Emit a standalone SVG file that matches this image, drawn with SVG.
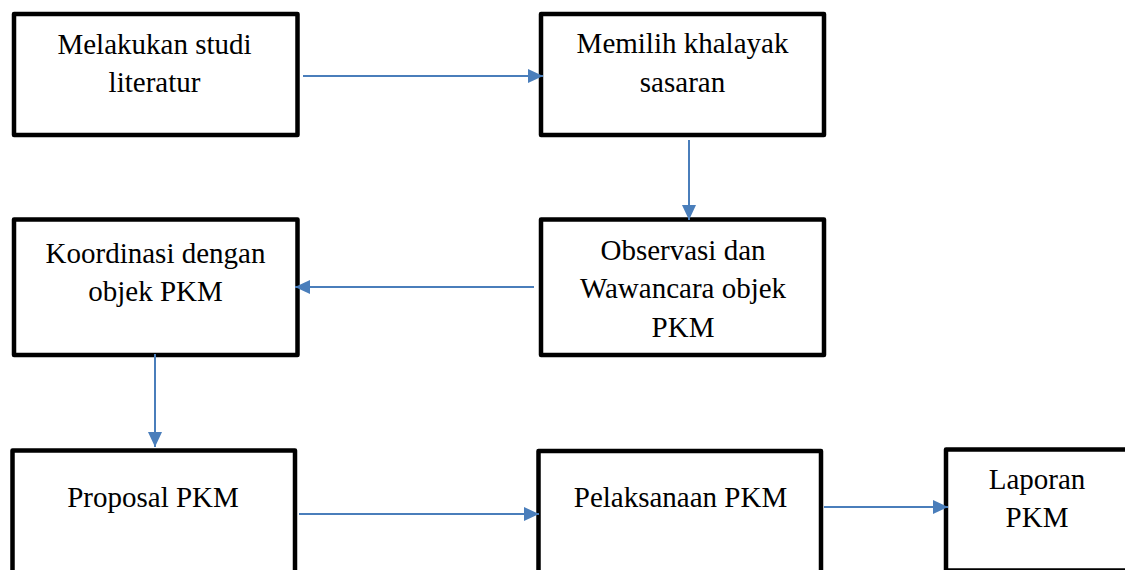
<svg xmlns="http://www.w3.org/2000/svg" width="1125" height="570" viewBox="0 0 1125 570">
<style>
.box{fill:#fff;stroke:#000;stroke-width:4.5;stroke-linejoin:round}
.lbl{font-family:"Liberation Serif","Times New Roman","DejaVu Serif",serif;font-size:29px;fill:#000;text-anchor:middle}
.conn{stroke:#4a7ebb;stroke-width:2;fill:none}
</style>
<defs>
<marker id="arr" markerUnits="userSpaceOnUse" markerWidth="16" markerHeight="16" refX="15" refY="7" orient="auto">
<path d="M0,0 L15,7 L0,14 Z" fill="#4a7ebb"/>
</marker>
</defs>
<rect width="1125" height="570" fill="#fff"/>
<g id="n1"><rect class="box" x="14" y="14" width="283.5" height="121"/>
<text class="lbl" x="154.5" y="54">Melakukan studi</text><text class="lbl" x="154.5" y="92">literatur</text></g>
<g id="n2"><rect class="box" x="541" y="14" width="283" height="121"/>
<text class="lbl" x="682.5" y="53">Memilih khalayak</text><text class="lbl" x="682.5" y="92">sasaran</text></g>
<g id="n3"><rect class="box" x="541" y="219.5" width="283" height="135.5"/>
<text class="lbl" x="683" y="260">Observasi dan</text><text class="lbl" x="683" y="298">Wawancara objek</text><text class="lbl" x="683" y="337">PKM</text></g>
<g id="n4"><rect class="box" x="14" y="219.5" width="283.5" height="135.5"/>
<text class="lbl" x="155.5" y="263">Koordinasi dengan</text><text class="lbl" x="155.5" y="301">objek PKM</text></g>
<g id="n5"><rect class="box" x="12.5" y="450.5" width="282.5" height="140"/>
<text class="lbl" x="153" y="507">Proposal PKM</text></g>
<g id="n6"><rect class="box" x="538.5" y="451" width="282.5" height="140"/>
<text class="lbl" x="680.5" y="507">Pelaksanaan PKM</text></g>
<g id="n7"><rect class="box" x="946" y="449.5" width="200" height="121"/>
<text class="lbl" x="1037" y="489">Laporan</text><text class="lbl" x="1037" y="527">PKM</text></g>
<g id="connectors">
<line class="conn" x1="303" y1="76" x2="543" y2="76" marker-end="url(#arr)"/>
<line class="conn" x1="689" y1="140" x2="689" y2="220" marker-end="url(#arr)"/>
<line class="conn" x1="534" y1="287" x2="295" y2="287" marker-end="url(#arr)"/>
<line class="conn" x1="155" y1="354" x2="155" y2="447" marker-end="url(#arr)"/>
<line class="conn" x1="299" y1="514" x2="539" y2="514" marker-end="url(#arr)"/>
<line class="conn" x1="824" y1="507" x2="948" y2="507" marker-end="url(#arr)"/>
</g>
</svg>
